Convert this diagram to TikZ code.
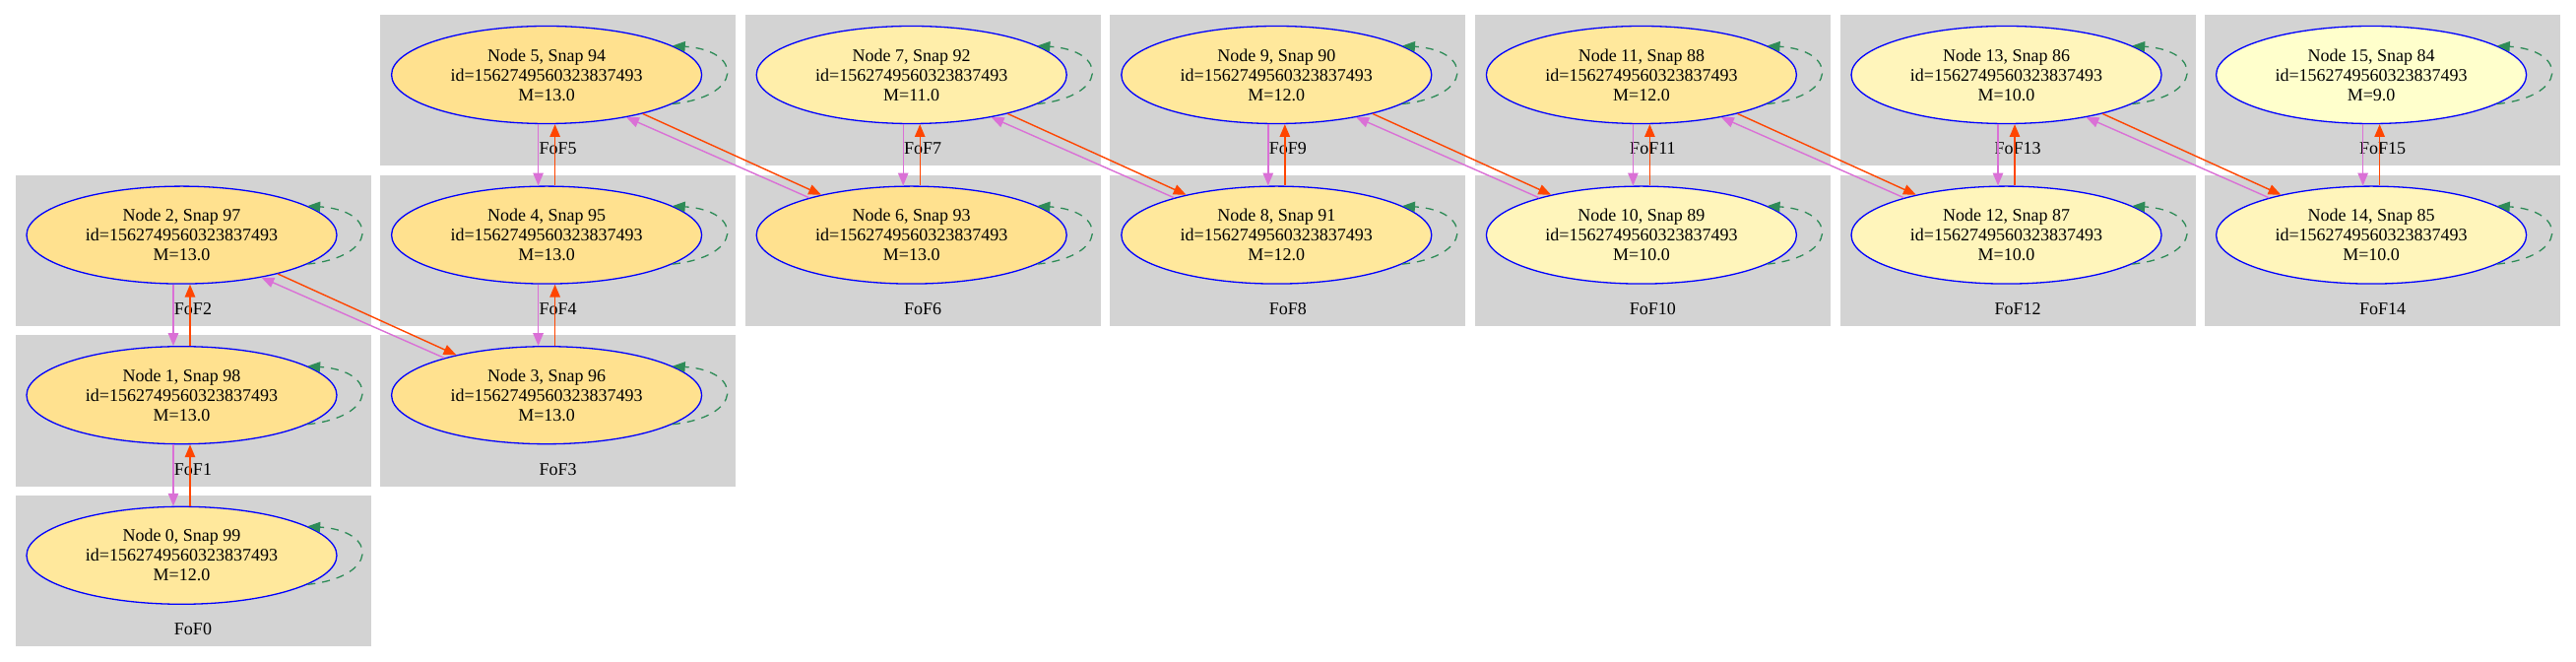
\documentclass[tikz,border=0pt]{standalone}
\usepackage{fontspec}
\setmainfont{Liberation Serif}
\usetikzlibrary{arrows.meta,shapes.geometric,calc}
\definecolor{clgrey}{HTML}{D3D3D3}
\definecolor{orchidc}{HTML}{DA70D6}
\definecolor{orangeredc}{HTML}{FF4500}
\definecolor{seagreenc}{HTML}{2E8B57}
\definecolor{m13}{HTML}{FFE18F}
\definecolor{m12}{HTML}{FFE89C}
\definecolor{m11}{HTML}{FFEEAA}
\definecolor{m10}{HTML}{FFF5BB}
\definecolor{m9}{HTML}{FFFFCC}
\tikzset{
  fofbox/.style={fill=clgrey, draw=none},
  foflabel/.style={font=\fontsize{9}{10}\selectfont, inner sep=0pt},
  halonode/.style={ellipse, draw=blue, line width=0.65pt, minimum width=157.5pt,
    minimum height=49.5pt, inner sep=0pt, align=center, font=\fontsize{9}{10}\selectfont},
  progedge/.style={draw=orchidc, line width=0.7pt, -{Triangle[length=6.4pt,width=5.2pt]}},
  descedge/.style={draw=orangeredc, line width=0.7pt, -{Triangle[length=6.4pt,width=5.2pt]}},
  selfloop/.style={draw=seagreenc, line width=0.65pt, dash pattern=on 4pt off 3.5pt,
    -{Triangle[length=6.4pt,width=5.2pt]}}
}
\begin{document}
\begin{tikzpicture}[x=0.5pt,y=-0.5pt]
\useasboundingbox (0,0) rectangle (2616,672);
% clusters and nodes
\foreach \k/\c/\r/\m in {0/1/4/12, 1/1/3/13, 2/1/2/13, 3/2/3/13, 4/2/2/13, 5/2/1/13,
  6/3/2/13, 7/3/1/11, 8/4/2/12, 9/4/1/12, 10/5/2/10, 11/5/1/12, 12/6/2/10,
  13/6/1/10, 14/7/2/10, 15/7/1/9}{
  \pgfmathsetmacro\L{15.5+370.6*(\c-1)}
  \pgfmathsetmacro\T{15+162.6*(\r-1)}
  \pgfmathtruncatemacro\s{99-\k}
  \path[fofbox] (\L,\T) rectangle ++(361,153.5);
  \node[foflabel] (lab\k) at ($(\L,\T)+(180.5,136)$) {FoF\k};
  \node[halonode, fill=m\m] (n\k) at ($(\L,\T)+(169,61)$)
    {Node \k, Snap \s\\id=1562749560323837493\\M=\m.0};
}
% vertical pairs (lower k, upper k+1)
\foreach \a/\b in {0/1, 1/2, 3/4, 4/5, 6/7, 8/9, 10/11, 12/13, 14/15}{
  \draw[progedge] ($(n\b.south)+(-8.5,0)$) -- ($(n\a.north)+(-8.5,0)$);
  \draw[descedge] ($(n\a.north)+(8.5,0)$) -- ($(n\b.south)+(8.5,0)$);
}
% diagonal pairs (upper-left k, lower-right k+1)
\foreach \a/\b in {2/3, 5/6, 7/8, 9/10, 11/12, 13/14}{
  \draw[descedge] (n\a.-22.9) -- (n\b.156.2);
  \draw[progedge] (n\b.160.5) -- (n\a.-28.2);
}
% self loops
\foreach \k in {0,...,15}{
  \draw[selfloop] (n\k.-13) .. controls ($(n\k.center)+(200,22)$) and ($(n\k.center)+(200,-25)$) .. (n\k.13.2);
}
\end{tikzpicture}
\end{document}
